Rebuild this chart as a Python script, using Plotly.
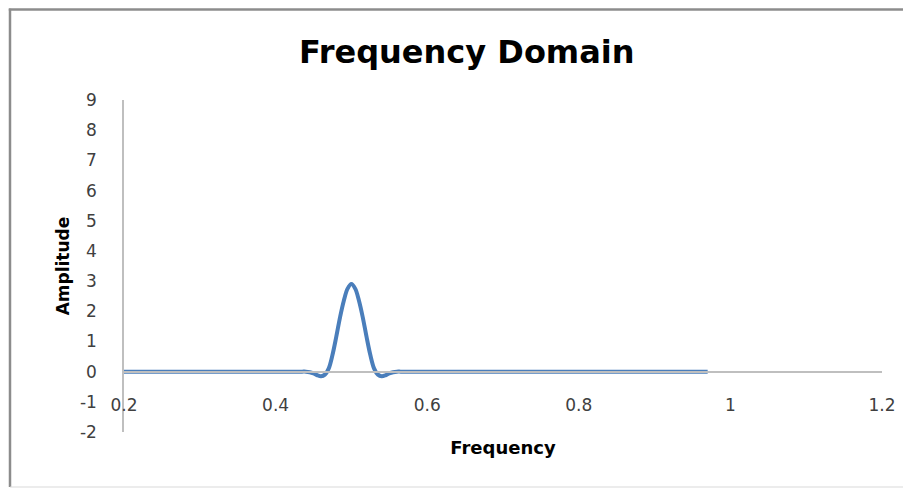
import plotly.graph_objects as go

# Data
frequency = [0.20, 0.25, 0.30, 0.35, 0.40, 0.42, 0.43, 0.435,
             0.440, 0.445, 0.450, 0.455, 0.460, 0.465, 0.470, 0.475, 0.480,
             0.485, 0.490, 0.495, 0.500, 0.505, 0.510, 0.515, 0.520, 0.525,
             0.530, 0.535, 0.540, 0.545, 0.550, 0.555, 0.560,
             0.565, 0.57, 0.58, 0.60, 0.65, 0.70, 0.75, 0.80, 0.85, 0.90, 0.97]
amplitude = [0.0, 0.0, 0.0, 0.0, 0.0, 0.0, 0.0, 0.0,
             0.0, -0.02, -0.06, -0.12, -0.15, -0.1, 0.1, 0.55, 1.15,
             1.8, 2.35, 2.75, 2.9, 2.75, 2.35, 1.8, 1.15, 0.55,
             0.1, -0.1, -0.15, -0.12, -0.06, -0.02, 0.0,
             0.0, 0.0, 0.0, 0.0, 0.0, 0.0, 0.0, 0.0, 0.0, 0.0, 0.0]

x_ticks = [0.2, 0.4, 0.6, 0.8, 1.0, 1.2]
x_tick_labels = ["0.2", "0.4", "0.6", "0.8", "1", "1.2"]
y_ticks = [-2, -1, 0, 1, 2, 3, 4, 5, 6, 7, 8, 9]
y_tick_labels = ["-2", "-1", "0", "1", "2", "3", "4", "5", "6", "7", "8", "9"]

Y_MIN, Y_MAX = -2, 9

fig = go.Figure()
fig.add_trace(go.Scatter(
    x=frequency, y=amplitude, mode="lines",
    line=dict(color="#4A7EBB", width=4, shape="spline", smoothing=1.0),
    showlegend=False, hoverinfo="skip",
))

tick_font = dict(family="DejaVu Sans, sans-serif", size=17, color="#404040")
title_font = dict(family="DejaVu Sans, sans-serif", size=18, color="#000000")

fig.update_layout(
    width=903, height=480,
    margin=dict(l=116, r=29, t=92, b=56),
    paper_bgcolor="white", plot_bgcolor="white",
    title=dict(text="<b>Frequency Domain</b>", x=0.508, xanchor="center",
               xref="container", y=0.908, yanchor="middle", yref="container",
               font=dict(family="DejaVu Sans, sans-serif", size=32, color="#000000")),
    xaxis=dict(
        range=[0.2, 1.2], tickvals=x_ticks, ticktext=x_tick_labels,
        anchor="free", position=(0 - Y_MIN) / (Y_MAX - Y_MIN),
        showline=True, linecolor="#BFBFBF", linewidth=1.5,
        showgrid=False, zeroline=False, ticks="",
        tickfont=tick_font, ticklabelstandoff=18,
        title=dict(text="<b>Frequency</b>", font=title_font, standoff=27),
    ),
    yaxis=dict(
        range=[Y_MIN, Y_MAX], tickvals=y_ticks, ticktext=y_tick_labels,
        showline=True, linecolor="#BFBFBF", linewidth=1.5, showgrid=False,
        zeroline=False, ticks="", tickfont=tick_font, ticklabelstandoff=22,
        title=dict(text="<b>Amplitude</b>", font=dict(family="DejaVu Sans, sans-serif",
                   size=17, color="#000000"), standoff=6),
    ),
    shapes=[
        dict(type="line", xref="paper", yref="paper", x0=-0.152, x1=1.04,
             y0=1.2726, y1=1.2726, line=dict(color="#8C8C8C", width=2.5)),
        dict(type="line", xref="paper", yref="paper", x0=-0.1504, x1=-0.1504,
             y0=-0.166, y1=1.275, line=dict(color="#8C8C8C", width=2.5)),
        dict(type="line", xref="paper", yref="paper", x0=-0.1504, x1=1.04,
             y0=-0.1657, y1=-0.1657, line=dict(color="#D9D9D9", width=1)),
    ],
)

fig.write_html("out.html")
